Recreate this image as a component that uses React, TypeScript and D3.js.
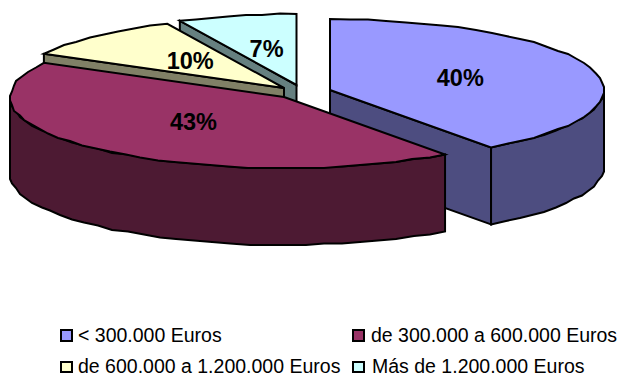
import React from "react";
import * as d3 from "d3";

const categories = [
  "< 300.000 Euros",
  "de 300.000 a 600.000 Euros",
  "de 600.000 a 1.200.000 Euros",
  "Más de 1.200.000 Euros",
];
const shares = [40, 43, 10, 7];
const topColors = ["#9999FF", "#993366", "#FFFFCC", "#CCFFFF"];
const wallColors = ["#4D4D80", "#4D1A33", "#808066", "#668080"];

// Layout of the exploded pie: every slice has its own apex.
const W = 620;
const H = 373;
const RX = 274;
const RY = 71;
const DEPTH = 77;
const apexX = [330, 284, 284, 296.5];
const apexY = [90, 97, 88, 85];
const paintOrder = [3, 2, 0, 1];
const legendX = [61, 353, 61, 353];
const legendY = [330, 330, 362, 362];
const legendH = [11, 11, 10, 10];
const legendTextX = [78, 371, 78, 372];
const legendBaseline = [342, 342, 372.5, 372.5];

const pie = d3.pie<number>().sort(null).value((d) => d);
const arcs = pie(shares);
const line = d3.line<[number, number]>();

// Projected point on the tilted rim; the rim is drawn as a coarse polyline.
const rim = (i: number, a: number, r = 1): [number, number] => [
  apexX[i] + r * RX * Math.sin(a),
  apexY[i] - r * RY * Math.cos(a),
];
const coarse = ([x, y]: [number, number]): [number, number] => [
  Math.round(x / 2) * 2,
  Math.round(y / 1.5) * 1.5,
];
const rimPoints = (i: number, a0: number, a1: number): [number, number][] => {
  const n = Math.max(2, Math.ceil(Math.abs(a1 - a0) / 0.07));
  const angle = d3.scaleLinear().domain([0, n]).range([a0, a1]);
  return d3.range(n + 1).map((k) => {
    const p = rim(i, angle(k));
    return k === 0 || k === n ? p : coarse(p);
  });
};
const drop = ([x, y]: [number, number]): [number, number] => [x, y + DEPTH];

function Slice({ i }: { i: number }) {
  const { startAngle: a, endAngle: b } = arcs[i];
  const apex: [number, number] = [apexX[i], apexY[i]];
  const walls: [number, number][][] = [];
  const radial = (t: number) => {
    const p = rim(i, t);
    walls.push([apex, p, drop(p), drop(apex)]);
  };
  if (Math.sin(a) < -1e-6) radial(a);
  if (Math.sin(b) > 1e-6) radial(b);
  // Outer wall: only the front half of the rim faces the viewer.
  const from = Math.max(a, Math.PI / 2);
  const to = Math.min(b, (3 * Math.PI) / 2);
  if (to > from) {
    const upper = rimPoints(i, from, to);
    walls.push([...upper, ...upper.slice().reverse().map(drop)]);
  }
  const top: [number, number][] = [apex, ...rimPoints(i, a, b)];
  return (
    <g stroke="#000" strokeWidth={2} strokeLinejoin="miter">
      {walls.map((w, k) => (
        <path key={k} d={line(w) + "Z"} fill={wallColors[i]} />
      ))}
      <path d={line(top) + "Z"} fill={topColors[i]} />
    </g>
  );
}

export default function App() {
  return (
    <svg
      width={W}
      height={H}
      viewBox={`0 0 ${W} ${H}`}
      style={{ position: "absolute", left: 0, top: 0, background: "#fff" }}
      fontFamily="'Liberation Sans', Arial, sans-serif"
    >
      {paintOrder.map((i) => (
        <Slice key={i} i={i} />
      ))}
      {arcs.map((d, i) => {
        const [x, y] = rim(i, (d.startAngle + d.endAngle) / 2, 0.5);
        return (
          <text
            key={i}
            x={x}
            y={y}
            dy="0.28em"
            textAnchor="middle"
            fontSize={23.5}
            fontWeight="bold"
            fill="#000"
          >
            {d.data}%
          </text>
        );
      })}
      {categories.map((c, i) => (
        <g key={c}>
          <rect
            x={legendX[i]}
            y={legendY[i]}
            width={11}
            height={legendH[i]}
            fill={topColors[i]}
            stroke="#000"
            strokeWidth={2}
          />
          <text x={legendTextX[i]} y={legendBaseline[i]} fontSize={19.5} fill="#000">
            {c}
          </text>
        </g>
      ))}
    </svg>
  );
}
